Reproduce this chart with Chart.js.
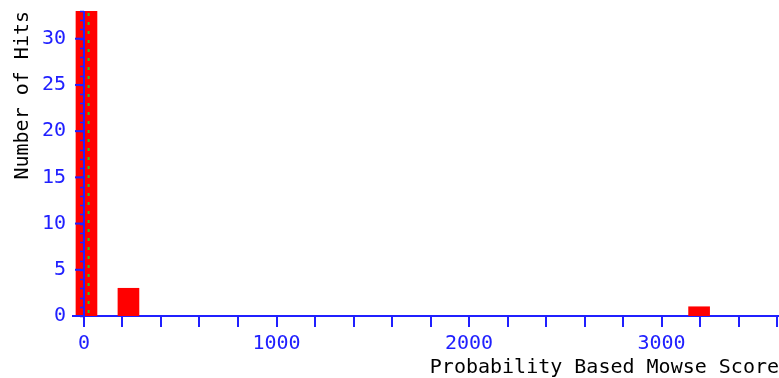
<!DOCTYPE html>
<html>
<head>
<meta charset="utf-8">
<script src="https://cdn.jsdelivr.net/npm/chart.js@4/dist/chart.umd.min.js"></script>
<style>
html,body{margin:0;padding:0;background:#fff;}
canvas{display:block;}
</style>
</head>
<body>
<canvas id="c" width="779" height="378"></canvas>
<script>
// ---- data ----
const scoreBins = [13, 231, 3195];          // bin centres (Mowse score)
const hitCounts = [40, 3, 1];               // number of hits per bin (first bar is clipped at top)
const xTickValues = [0,200,400,600,800,1000,1200,1400,1600,1800,2000,2200,2400,2600,2800,3000,3200,3400,3600];
const xLabelValues = [0, 1000, 2000, 3000];
const yTickValues = [0, 5, 10, 15, 20, 25, 30];
const yMinorStep = 1;
const thresholdScore = 24;
const xAxisTitle = 'Probability Based Mowse Score';
const yAxisTitle = 'Number of Hits';

const BLUE = '#2020ff';
const FONT = { family: "'DejaVu Sans Mono', 'Liberation Mono', monospace", size: 20 };

const yAxisPlugin = {
  id: 'yAxisAtZero',
  afterDatasetsDraw(chart) {
    const ctx = chart.ctx;
    const xs = chart.scales.x, ys = chart.scales.y;
    const x0 = xs.getPixelForValue(0);
    ctx.save();
    ctx.strokeStyle = BLUE;
    ctx.lineWidth = 2;
    ctx.beginPath();
    ctx.moveTo(x0, ys.top);
    ctx.lineTo(x0, ys.bottom);
    ctx.stroke();
    // minor ticks
    ctx.lineWidth = 1.5;
    for (let v = 0; v <= ys.max; v += yMinorStep) {
      const y = Math.round(ys.getPixelForValue(v)) + 0.5;
      ctx.beginPath();
      ctx.moveTo(x0 - 4, y);
      ctx.lineTo(x0, y);
      ctx.stroke();
    }
    // major ticks
    ctx.lineWidth = 2;
    yTickValues.forEach(v => {
      const y = ys.getPixelForValue(v);
      ctx.beginPath();
      ctx.moveTo(x0 - 9, y);
      ctx.lineTo(x0, y);
      ctx.stroke();
    });
    // threshold (green dotted)
    const xt = xs.getPixelForValue(thresholdScore);
    ctx.strokeStyle = '#22cc22';
    ctx.lineWidth = 2;
    ctx.setLineDash([3, 6]);
    ctx.beginPath();
    ctx.moveTo(xt, ys.top + 2);
    ctx.lineTo(xt, ys.bottom);
    ctx.stroke();
    ctx.restore();
  }
};

new Chart(document.getElementById('c'), {
  type: 'bar',
  data: {
    datasets: [{
      data: scoreBins.map((s, i) => ({ x: s, y: hitCounts[i] })),
      backgroundColor: '#ff0000',
      borderWidth: 0,
      barThickness: 21
    }]
  },
  options: {
    responsive: false,
    animation: false,
    devicePixelRatio: 1,
    layout: { padding: { top: 11, left: 0, right: 0, bottom: 0 } },
    plugins: { legend: { display: false }, tooltip: { enabled: false } },
    scales: {
      x: {
        type: 'linear',
        min: -57,
        max: 3610,
        offset: false,
        afterBuildTicks: s => { s.ticks = xTickValues.map(v => ({ value: v })); },
        afterFit: s => { s.height = 62; s.paddingLeft = 0; s.paddingRight = 0; },
        grid: {
          display: true, drawOnChartArea: false, drawTicks: true,
          tickLength: 11, color: BLUE, lineWidth: 2, offset: false
        },
        border: { display: true, color: BLUE, width: 2 },
        ticks: {
          color: BLUE, font: FONT, padding: 5, autoSkip: false, maxRotation: 0,
          callback: v => xLabelValues.includes(v) ? String(v) : ''
        },
        title: {
          display: true, text: xAxisTitle, align: 'end', color: '#000',
          font: { ...FONT, lineHeight: 1 }, padding: { top: 0, bottom: 0 }
        }
      },
      y: {
        min: 0,
        max: 33,
        afterBuildTicks: s => { s.ticks = yTickValues.map(v => ({ value: v })); },
        afterFit: s => { s.width = 73; s.paddingTop = 0; s.paddingBottom = 0; },
        grid: { display: false, drawTicks: false },
        border: { display: false },
        ticks: { color: BLUE, font: FONT, padding: 7 },
        title: {
          display: true, text: yAxisTitle, align: 'end', color: '#000',
          font: { ...FONT, lineHeight: 1 }, padding: { top: 13, bottom: 0 }
        }
      }
    }
  },
  plugins: [yAxisPlugin]
});
</script>
</body>
</html>
